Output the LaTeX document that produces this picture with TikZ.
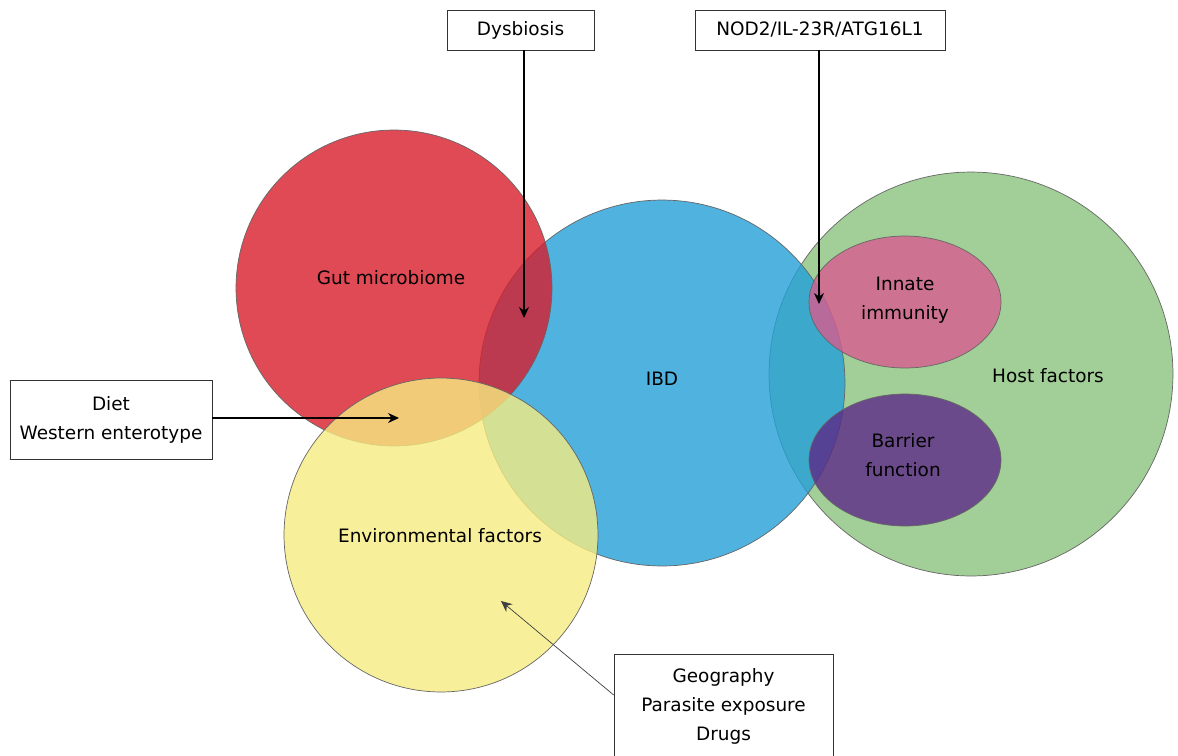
\documentclass[tikz,border=0pt]{standalone}
\usepackage{fontspec}
\setmainfont{DejaVu Sans}
\usetikzlibrary{shapes.geometric, arrows.meta}

\definecolor{gutred}{RGB}{216,29,43}
\definecolor{ibdblue}{RGB}{35,159,216}
\definecolor{envyellow}{RGB}{246,236,128}
\definecolor{hostgreen}{RGB}{139,194,126}
\definecolor{innatepink}{RGB}{216,92,144}
\definecolor{barrierpurple}{RGB}{92,41,135}

\begin{document}
\begin{tikzpicture}[
    x=0.02cm, y=-0.02cm,
    every node/.style={font=\fontsize{10.5}{16.5}\selectfont},
    set/.style={circle, draw=black!60, thin, fill opacity=0.8, inner sep=0pt, outer sep=0pt},
    subset/.style={ellipse, draw=black!60, thin, fill opacity=0.8, inner sep=0pt, outer sep=0pt, minimum width=3.84cm, minimum height=2.64cm},
    box/.style={rectangle, draw=black!80, thin, fill=white, align=center, inner sep=0pt},
    settext/.style={align=center},
    arrow/.style={-{Stealth[length=2.2mm, width=2mm]}, semithick}
]
    \path[use as bounding box, fill=white] (0,0) rectangle (1178,755);

    % Sets
    \node[set, fill=hostgreen, minimum size=8.08cm] (host) at (971,374) {};
    \node[set, fill=ibdblue, minimum size=7.32cm] (ibd) at (662,383) {};
    \node[set, fill=gutred, minimum size=6.32cm] (gut) at (394,288) {};
    \node[set, fill=envyellow, minimum size=6.28cm] (env) at (441,535) {};
    \node[subset, fill=innatepink] (innate) at (905,302) {};
    \node[subset, fill=barrierpurple] (barrier) at (905,460) {};

    % Set labels
    \node[settext] (gut-label) at (391,278) {Gut microbiome};
    \node[settext] (ibd-label) at (662,379) {IBD};
    \node[settext] (env-label) at (440,536) {Environmental factors};
    \node[settext] (host-label) at (1048,376) {Host factors};
    \node[settext] (innate-label) at (905,300) {Innate\\immunity};
    \node[settext] (barrier-label) at (903,455) {Barrier\\function};

    % Boxes
    \node[box, minimum width=2.94cm, minimum height=0.8cm] (dysbiosis) at (520.5,30) {Dysbiosis};
    \node[box, minimum width=5cm, minimum height=0.8cm] (genes) at (820,30) {NOD2/IL-23R/ATG16L1};
    \node[box, minimum width=4.04cm, minimum height=1.58cm] (diet) at (111,419.5) {Diet\\Western enterotype};
    \node[box, minimum width=4.38cm, minimum height=2.06cm] (exposures) at (723.5,706) {Geography\\Parasite exposure\\Drugs};

    % Arrow ends
    \coordinate (dysbiosis-tip) at (524,318);
    \coordinate (genes-tip) at (819,304);
    \coordinate (diet-tip) at (399,418);
    \coordinate (exposures-tip) at (501,601);

    % Arrows
    \draw[arrow] (dysbiosis.south -| dysbiosis-tip) -- (dysbiosis-tip);
    \draw[arrow] (genes.south -| genes-tip) -- (genes-tip);
    \draw[arrow] (diet-tip -| diet.east) -- (diet-tip);
    \draw[arrow, draw=black!75, thin] ([yshift=0.22cm]exposures.west) -- (exposures-tip);
\end{tikzpicture}
\end{document}
